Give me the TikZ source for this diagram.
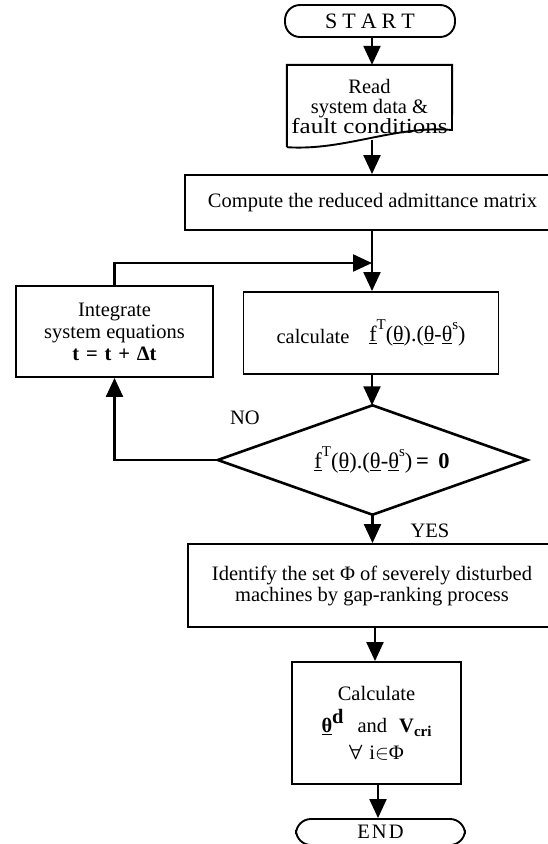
\documentclass[tikz,border=0pt]{standalone}
\usepackage{fontspec}
\usepackage{graphicx}
\setmainfont{Liberation Serif}
\usetikzlibrary{arrows.meta,calc}
\newcommand\myfs{\fontsize{20.5}{21}\selectfont}
\newcommand\ul[1]{\underline{#1}}
\newcommand\bigsup[1]{\raisebox{0.55em}{\fontsize{15}{15}\selectfont #1}}
\begin{document}
\begin{tikzpicture}[x=1pt,y=-1pt,
  outline/.style={draw, line width=1.9pt},
  box/.style={outline, inner sep=0pt, align=center, font=\myfs},
  term/.style={box, rounded corners=15pt},
  txt/.style={inner sep=0pt, align=center, font=\myfs},
  conn/.style={line width=2.3pt, -{Triangle[length=19pt,width=17pt]}},
  plain/.style={line width=2.3pt}
]
\useasboundingbox (0,0) rectangle (547,844);

% nodes
\node[term, minimum width=170pt, minimum height=32pt] (start) at (370,21) {\fontsize{22}{22}\selectfont S\hspace{5pt}T\hspace{5pt}A\hspace{5pt}R\hspace{5pt}T};
\node[txt, minimum width=165pt, minimum height=82pt] (read) at (369.5,106)
  {Read\\[-1pt] system data \&\\[-1pt] \scalebox{1.22}[1.05]{fault conditions}};
\draw[outline] (read.south west) -- (read.north west) -- (read.north east)
  -- (452,130) .. controls (395,125) and (345,151) .. (read.south west);
\coordinate (readout) at (372,140);
\node[box, minimum width=375pt, minimum height=55pt] (compute) at (372.5,202.5)
  {Compute the reduced admittance matrix};
\coordinate (join) at (372,263);
\node[box, minimum width=197pt, minimum height=91pt] (integ) at (114.5,331.5)
  {Integrate\\[1pt] system equations\\[1pt] \textbf{t\,\,=\,\,t\,\,+\,\,Δt}};
\node[box, minimum width=255pt, minimum height=82pt] (calc) at (371,333)
  {calculate\hspace{20pt}\raisebox{2pt}{\fontsize{22}{22}\selectfont\ul{f}\bigsup{T}(\ul{θ}).(\ul{θ}-\ul{θ}\bigsup{s})}};
\node[inner sep=0pt, minimum width=309pt, minimum height=109pt] (dec) at (372.5,460) {};
\draw[outline, line width=2.6pt] (dec.north) -- (dec.east) -- (dec.south) -- (dec.west) -- cycle;
\node[txt, font=\fontsize{22.5}{23}\selectfont] (dectext) at (382,460)
  {\ul{f}\bigsup{T}(\ul{θ}).(\ul{θ}-\ul{θ}\bigsup{s})\,\textbf{=\, 0}};
\node[txt] (no) at (245,418) {NO};
\node[txt] (yes) at (430,531) {YES};
\node[box, minimum width=368pt, minimum height=83pt] (ident) at (372,585.5)
  {Identify the set Φ of severely disturbed\\[0pt] machines by gap-ranking process};
\node[box, minimum width=169pt, minimum height=122pt] (calc2) at (376.5,723)
  {Calculate\\[8pt] \textbf{\ul{θ}}\raisebox{9pt}{\textbf{d}}\hspace{14pt}and\hspace{12pt}\textbf{V}\raisebox{-4pt}{\fontsize{15}{15}\selectfont\textbf{cri}}\\[6pt]
   {\boldmath$\forall$}\hspace{7pt}i$\in$Φ};
\node[term, minimum width=169pt, minimum height=26pt] (end) at (380.5,832)
  {E\hspace{2pt}N\hspace{2pt}D};

% connectors
\draw[conn] (start.south -| readout) -- (read.north -| readout);
\draw[conn] (readout) -- (compute.north -| readout);
\draw[plain] (compute.south -| join) -- (join);
\draw[conn] (join) -- (calc.north -| join);
\draw[conn] (integ.north) |- (join);
\draw[conn] (calc.south -| join) -- (dec.north -| join);
\draw[conn] (dec.west) -| (integ.south);
\draw[conn] (dec.south) -- (ident.north -| dec.south);
\draw[conn] (ident.south -| 375,0) -- (calc2.north -| 375,0);
\draw[conn] (calc2.south -| 378,0) -- (end.north -| 378,0);
\end{tikzpicture}
\end{document}
